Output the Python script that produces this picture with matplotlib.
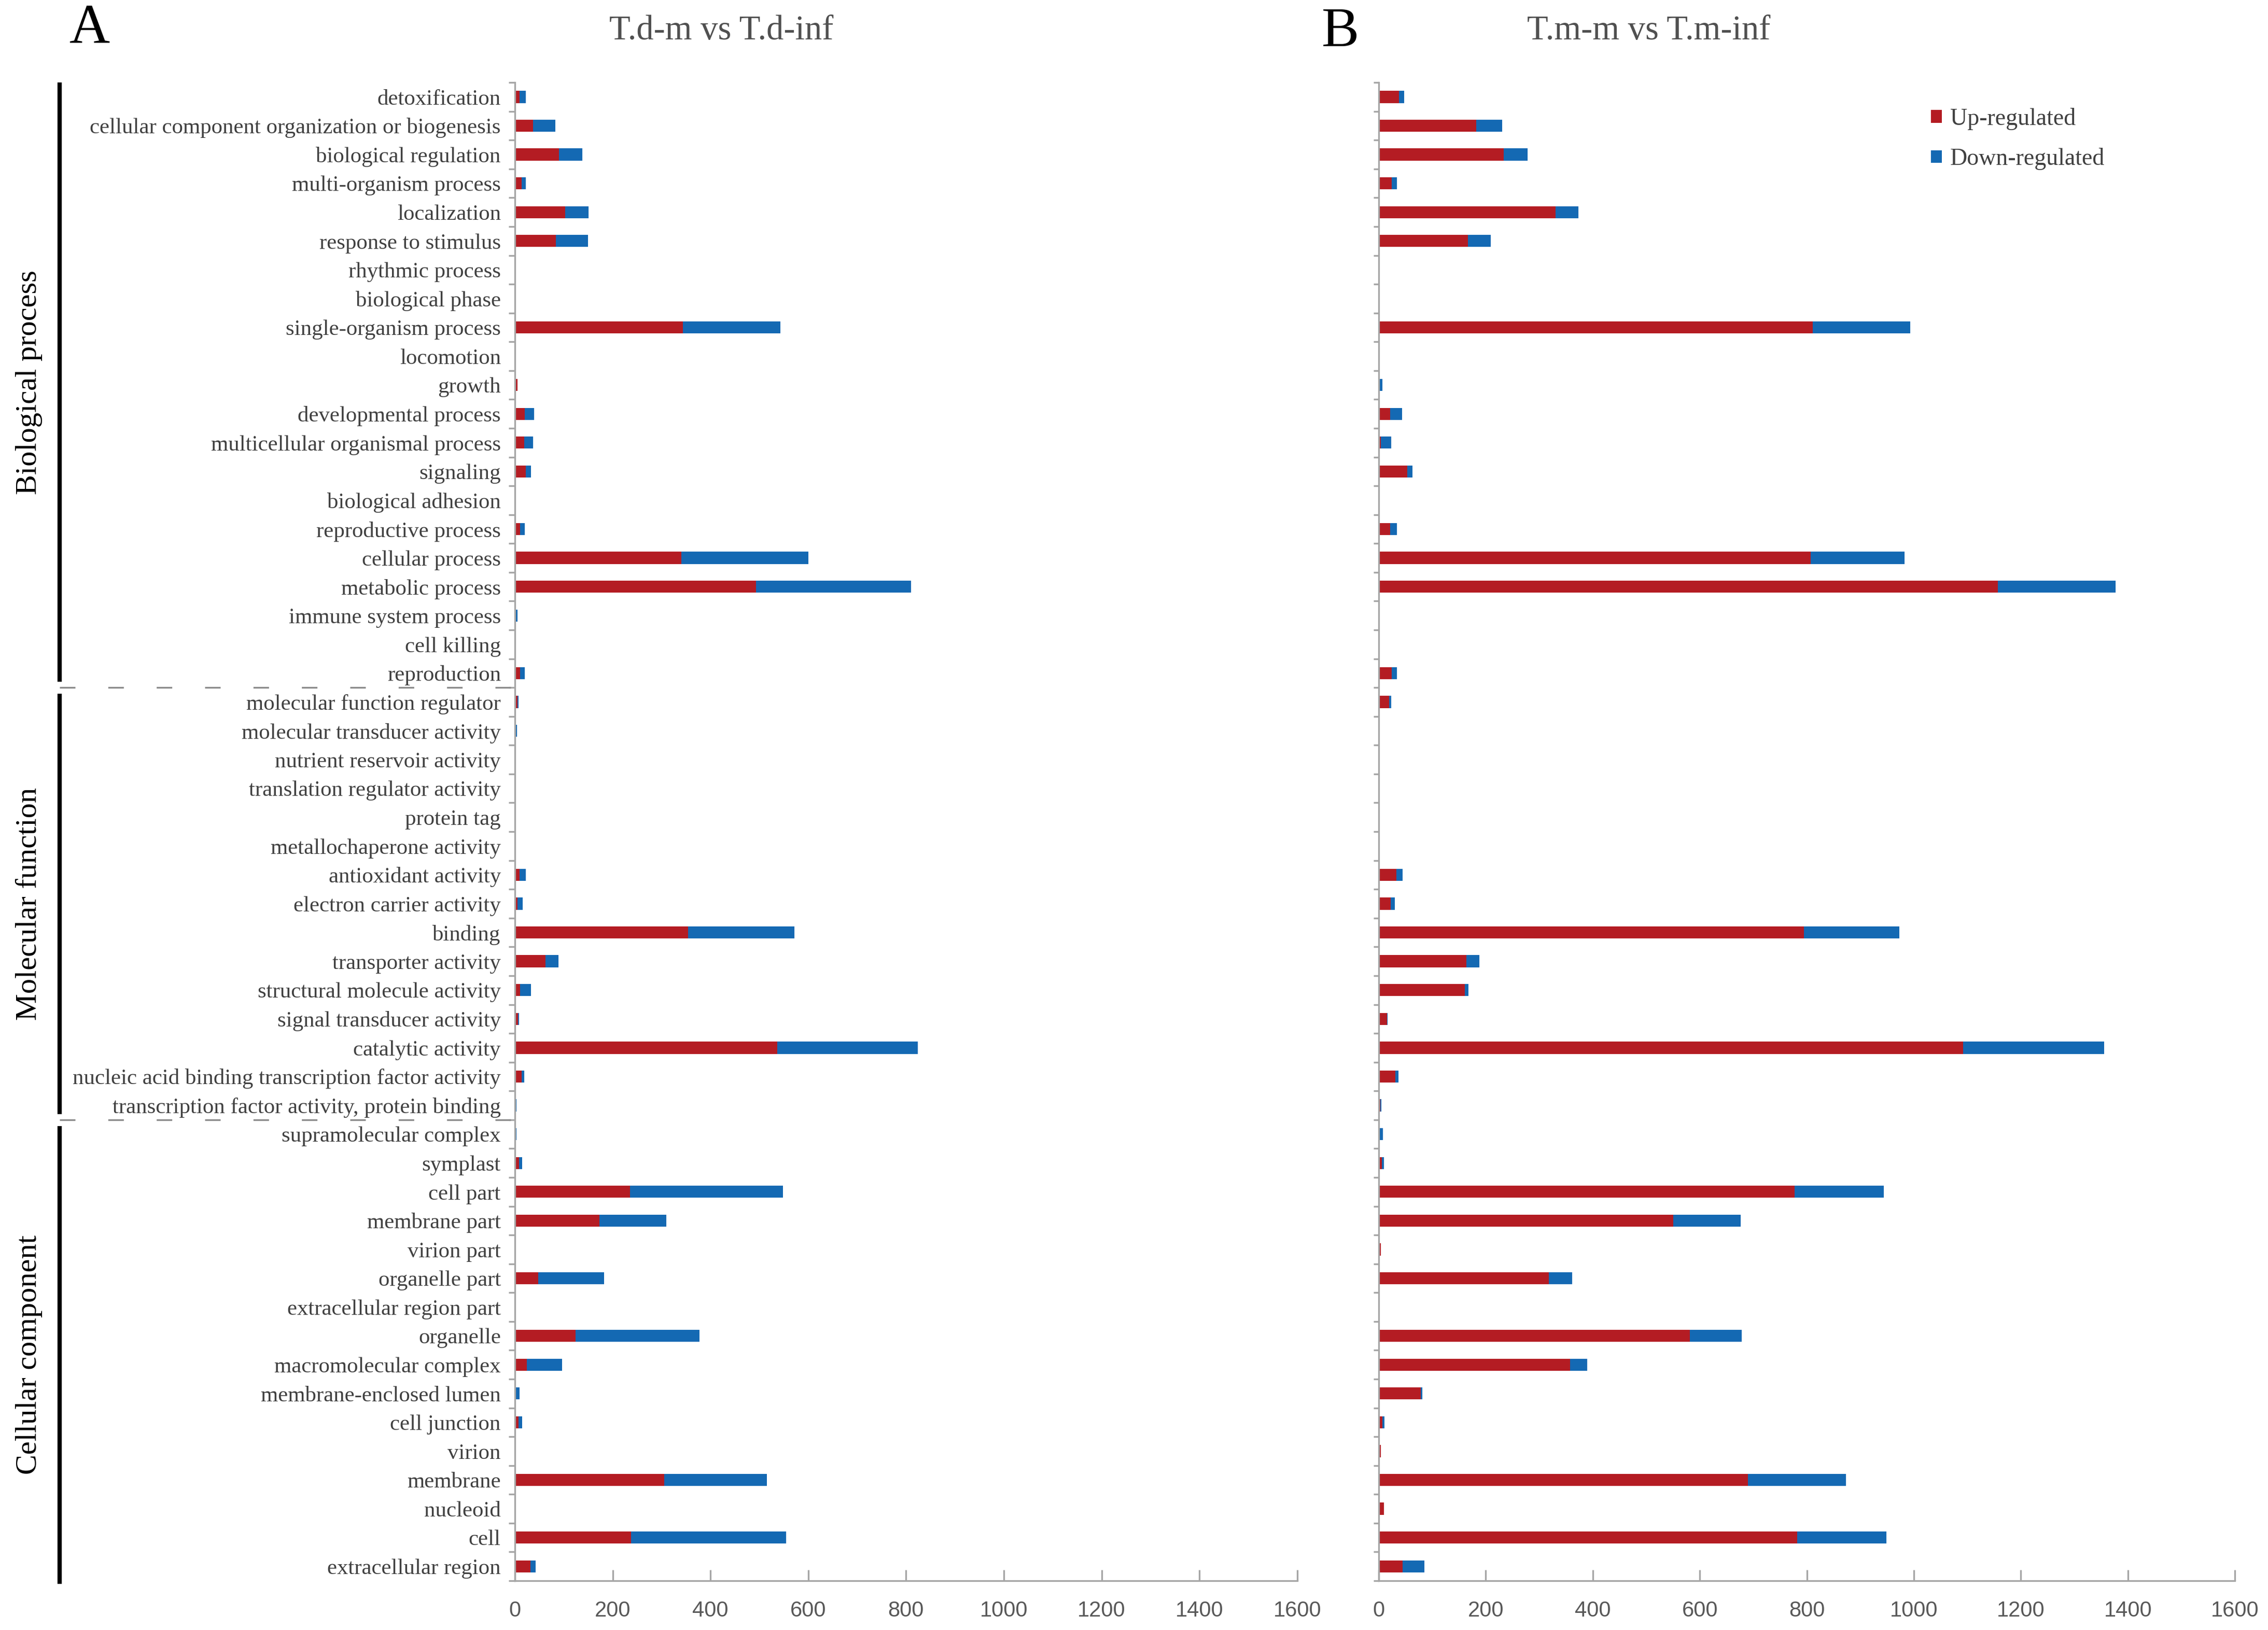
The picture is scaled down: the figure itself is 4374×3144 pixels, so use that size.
import numpy as np
import matplotlib.pyplot as plt
from matplotlib.transforms import blended_transform_factory

categorias = [
    # Biological process
    "detoxification", "cellular component organization or biogenesis", "biological regulation",
    "multi-organism process", "localization", "response to stimulus", "rhythmic process",
    "biological phase", "single-organism process", "locomotion", "growth",
    "developmental process", "multicellular organismal process", "signaling",
    "biological adhesion", "reproductive process", "cellular process", "metabolic process",
    "immune system process", "cell killing", "reproduction",
    # Molecular function
    "molecular function regulator", "molecular transducer activity", "nutrient reservoir activity",
    "translation regulator activity", "protein tag", "metallochaperone activity",
    "antioxidant activity", "electron carrier activity", "binding", "transporter activity",
    "structural molecule activity", "signal transducer activity", "catalytic activity",
    "nucleic acid binding transcription factor activity",
    "transcription factor activity, protein binding",
    # Cellular component
    "supramolecular complex", "symplast", "cell part", "membrane part", "virion part",
    "organelle part", "extracellular region part", "organelle", "macromolecular complex",
    "membrane-enclosed lumen", "cell junction", "virion", "membrane", "nucleoid", "cell",
    "extracellular region",
]

# T.d-m vs T.d-inf
up_a = [10, 37, 90, 14, 103, 84, 0, 0, 344, 0, 5, 20, 19, 22, 0, 11, 340, 493, 1, 0, 11,
        5, 2, 0, 0, 0, 0, 10, 5, 354, 63, 11, 6, 537, 14, 0,
        0, 9, 236, 173, 0, 48, 0, 124, 25, 1, 8, 0, 306, 0, 238, 32]
down_a = [12, 46, 48, 8, 48, 66, 0, 0, 199, 0, 0, 19, 18, 11, 0, 9, 260, 317, 4, 0, 9,
          2, 2, 0, 0, 0, 0, 12, 11, 218, 26, 22, 3, 287, 5, 3,
          3, 6, 312, 137, 0, 135, 0, 254, 72, 9, 7, 0, 209, 2, 317, 11]

# T.m-m vs T.m-inf
up_b = [38, 182, 234, 24, 330, 167, 0, 0, 811, 0, 2, 21, 4, 53, 0, 21, 807, 1157, 0, 0, 24,
        19, 2, 0, 1, 1, 0, 33, 22, 795, 164, 161, 16, 1092, 31, 3,
        2, 6, 777, 550, 4, 318, 0, 581, 358, 79, 7, 4, 690, 10, 782, 45]
down_b = [10, 49, 44, 10, 43, 42, 0, 0, 182, 0, 5, 23, 19, 10, 0, 13, 176, 220, 2, 0, 10,
          4, 0, 2, 0, 0, 0, 12, 8, 178, 24, 7, 1, 264, 6, 2,
          6, 4, 167, 126, 0, 43, 2, 97, 32, 2, 4, 0, 183, 0, 167, 40]

secciones = ["Biological process", "Molecular function", "Cellular component"]
limites = [20.5, 35.5]

rojo = "#B41C23"
azul = "#1469B3"
gris = "#A6A6A6"
texto = "#404040"
serif = ["Liberation Serif", "DejaVu Serif"]
narrow = ["Liberation Sans Narrow", "Liberation Sans", "DejaVu Sans"]

fig = plt.figure(figsize=(4374 / 300, 3144 / 300), dpi=300)
axA = fig.add_axes([0.2270, 0.0302, 0.3450, 0.9192])
axB = fig.add_axes([0.6079, 0.0302, 0.3775, 0.9192])

n = len(categorias)
y = np.arange(n)


def dibujar(ax, up, down, largo_tick):
    ax.barh(y, up, height=0.42, color=rojo, label="Up-regulated")
    ax.barh(y, down, left=up, height=0.42, color=azul, label="Down-regulated")
    ax.set_xlim(0, 1600)
    ax.set_ylim(n - 0.5, -0.5)
    for s in ["top", "right"]:
        ax.spines[s].set_visible(False)
    for s in ["left", "bottom"]:
        ax.spines[s].set_color(gris)
        ax.spines[s].set_linewidth(0.8)
    ax.set_xticks(np.arange(0, 1601, 200))
    ax.tick_params(axis="x", direction="in", length=5, width=0.8, color=gris,
                   labelsize=10, labelcolor="#595959", pad=9)
    for t in ax.get_xticklabels():
        t.set_family(narrow)
    ax.set_yticks(np.arange(-0.5, n, 1), minor=True)
    ax.tick_params(axis="y", which="minor", direction="out", length=largo_tick,
                   width=0.8, color=gris)
    ax.tick_params(axis="y", which="major", length=0)


dibujar(axA, up_a, down_a, 3)
dibujar(axB, up_b, down_b, 2.5)

axA.set_yticks(y)
axA.set_yticklabels(categorias, family=serif, fontsize=10.3, color=texto)
axA.tick_params(axis="y", which="major", pad=6.5)
axB.set_yticks(y)
axB.set_yticklabels([])

# secciones a la izquierda
tr = blended_transform_factory(axA.transAxes, axA.transData)
xbar = -0.582
tramos = [(-0.5, 20.3), (20.72, 35.3), (35.72, n - 0.4)]
for (y0, y1), nombre in zip(tramos, secciones):
    axA.plot([xbar, xbar], [y0, y1], color="black", lw=2, transform=tr,
             clip_on=False, solid_capstyle="butt")
    axA.text(-0.621, (y0 + y1) / 2, nombre, rotation=90, ha="center", va="center",
             fontsize=14, family=serif, color="black", transform=tr)
for yl in limites:
    axA.plot([xbar, 0], [yl, yl], color="#8C8C8C", lw=0.8, transform=tr,
             clip_on=False, dashes=(9, 19))

fig.text(0.318, 0.981, "T.d-m vs T.d-inf", ha="center", va="center",
         fontsize=16, family=serif, color="#505050")
fig.text(0.727, 0.981, "T.m-m vs T.m-inf", ha="center", va="center",
         fontsize=16, family=serif, color="#505050")
fig.text(0.0396, 0.982, "A", ha="center", va="center", fontsize=26, family=serif)
fig.text(0.591, 0.980, "B", ha="center", va="center", fontsize=26, family=serif)

leg = axB.legend(loc="upper left", bbox_to_anchor=(0.842, 0.947),
                 bbox_transform=fig.transFigure, frameon=False,
                 handlelength=0.45, handleheight=0.45, handletextpad=0.35,
                 labelspacing=0.75, prop={"family": serif, "size": 11})
for t in leg.get_texts():
    t.set_color(texto)

fig.savefig("out.png", dpi=300)
